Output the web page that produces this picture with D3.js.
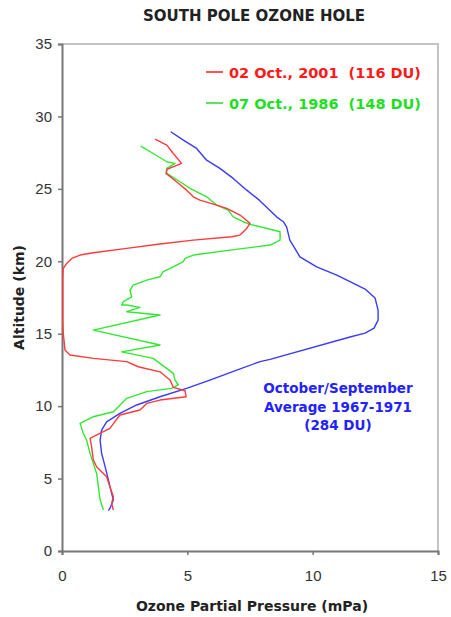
<!DOCTYPE html>
<html>
<head>
<meta charset="utf-8">
<script src="https://cdn.jsdelivr.net/npm/d3@7"></script>
<style>
  body { margin: 0; background: #fff; }
  text { font-family: "DejaVu Sans", sans-serif; }
</style>
</head>
<body>
<div id="chart-area"></div>
<script>
// Ozone profiles, altitude (km) against partial pressure (mPa)
const pressure2001 = [3.71, 4.18, 4.44, 4.77, 4.18, 4.15, 4.57, 4.97, 5.24, 5.50, 6.17, 6.57, 7.10, 7.50, 7.37, 7.10, 6.77, 5.24, 3.91, 2.58, 1.25, 0.72, 0.39, 0.19, 0.05, 0.03, 0.03, 0.05, 0.12, 0.32, 1.25, 2.58, 3.04, 3.91, 4.31, 4.44, 4.91, 4.95, 3.91, 3.38, 3.11, 2.31, 1.91, 1.25, 1.12, 1.18, 1.25, 1.38, 1.78, 1.91, 2.05, 1.98, 2.05];
const altitude2001 = [28.43, 28.02, 27.44, 26.76, 26.34, 26.07, 25.49, 24.91, 24.45, 24.22, 23.88, 23.65, 23.19, 22.62, 22.27, 21.81, 21.69, 21.46, 21.19, 20.89, 20.59, 20.43, 20.20, 19.86, 19.51, 18.93, 15.94, 15.02, 13.87, 13.53, 13.30, 13.07, 12.72, 12.37, 11.80, 11.30, 11.06, 10.65, 10.42, 10.19, 9.73, 9.39, 8.47, 7.89, 7.78, 7.20, 6.28, 5.82, 5.13, 4.44, 3.75, 3.29, 2.83];

const pressure1986 = [3.14, 3.64, 4.18, 4.51, 4.18, 4.18, 4.71, 5.11, 5.77, 6.17, 6.63, 6.83, 7.23, 7.50, 8.70, 8.70, 8.30, 6.70, 5.24, 4.91, 4.84, 4.44, 4.04, 3.91, 3.38, 2.84, 2.71, 2.78, 2.45, 2.38, 2.58, 3.11, 2.58, 3.91, 1.25, 3.91, 2.38, 3.64, 4.44, 4.51, 4.64, 4.37, 3.38, 2.58, 2.25, 2.05, 1.25, 0.72, 0.85, 0.98, 1.12, 1.25, 1.38, 1.45, 1.52, 1.65];
const altitude1986 = [27.95, 27.44, 26.87, 26.76, 26.41, 26.07, 25.49, 25.03, 24.45, 23.88, 23.53, 23.07, 22.73, 22.55, 22.04, 21.46, 21.12, 20.77, 20.43, 20.20, 19.97, 19.62, 19.28, 18.93, 18.70, 18.36, 18.01, 17.55, 17.21, 16.98, 16.98, 16.82, 16.52, 16.29, 15.25, 14.22, 13.75, 13.30, 12.26, 11.80, 11.46, 11.23, 11.00, 10.54, 9.96, 9.61, 9.27, 8.81, 8.12, 7.66, 6.74, 6.05, 5.36, 4.44, 3.52, 2.83];

const pressureAvg = [4.34, 4.84, 5.37, 5.77, 6.30, 6.83, 7.37, 7.87, 8.56, 8.83, 8.96, 9.09, 9.49, 10.16, 10.96, 11.49, 12.09, 12.49, 12.61, 12.61, 12.45, 12.09, 11.49, 8.30, 7.90, 6.97, 5.90, 4.97, 3.91, 2.98, 2.31, 1.78, 1.58, 1.52, 1.58, 1.72, 1.85, 1.98, 2.05, 1.91, 1.85];
const altitudeAvg = [28.94, 28.36, 27.79, 26.98, 26.41, 25.72, 24.91, 24.22, 23.07, 22.73, 22.38, 21.46, 20.31, 19.62, 19.05, 18.59, 18.08, 17.46, 16.63, 15.94, 15.39, 15.04, 14.77, 13.23, 13.07, 12.49, 11.80, 11.23, 10.65, 10.08, 9.50, 8.92, 8.35, 7.66, 6.74, 5.82, 4.90, 3.98, 3.52, 2.94, 2.78];

const xTicks = [0, 5, 10, 15];
const yTicks = [0, 5, 10, 15, 20, 25, 30, 35];
const legendLabels = ["02 Oct., 2001  (116 DU)", "07 Oct., 1986  (148 DU)"];
const avgLabels = ["October/September", "Average 1967-1971", "(284 DU)"];

const margin = { left: 62, right: 13, top: 44, bottom: 66 };
const width = 451 - margin.left - margin.right,
      height = 617 - margin.top - margin.bottom;

const svg = d3.select("#chart-area")
  .append("svg")
    .attr("width", 451)
    .attr("height", 617);

const g = svg.append("g")
  .attr("transform", "translate(" + margin.left + ", " + margin.top + ")");

const xScale = d3.scaleLinear().domain([0, 15]).range([0, width]);
const yScale = d3.scaleLinear().domain([0, 35]).range([height, 0]);

// light frame on top and right
g.append("path")
  .attr("d", "M0,0H" + width + "V" + height)
  .attr("fill", "none")
  .attr("stroke", "#c4c4c4")
  .attr("stroke-width", 2);

const xAxis = g.append("g")
  .attr("transform", "translate(0," + height + ")")
  .call(d3.axisBottom(xScale).tickValues(xTicks).tickSize(4).tickPadding(15));

const yAxis = g.append("g")
  .call(d3.axisLeft(yScale).tickValues(yTicks).tickSize(4).tickPadding(6));

[xAxis, yAxis].forEach((a) => {
  a.select(".domain").attr("stroke", "#777").attr("stroke-width", 2);
  a.selectAll(".tick line").attr("stroke", "#777").attr("stroke-width", 1.5);
  a.selectAll(".tick text")
    .attr("fill", "#333")
    .style("font-family", "'Liberation Sans', Arial, sans-serif")
    .style("font-size", "15px");
});

const line = d3.line()
  .x((d) => xScale(d[0]))
  .y((d) => yScale(d[1]));

const series = [
  { p: pressureAvg, a: altitudeAvg, color: "#3a3aff" },
  { p: pressure1986, a: altitude1986, color: "#33e833" },
  { p: pressure2001, a: altitude2001, color: "#ff3a3a" }
];

series.forEach((s) => {
  g.append("path")
    .datum(d3.zip(s.p, s.a))
    .attr("d", line)
    .attr("fill", "none")
    .attr("stroke", s.color)
    .attr("stroke-width", 1.4)
    .attr("stroke-linejoin", "round");
});

// legend
const legendColors = ["#ff1a1a", "#1ee01e"];
legendLabels.forEach((lab, i) => {
  const y = 72 + i * 31;
  svg.append("line")
    .attr("x1", 206).attr("x2", 223)
    .attr("y1", y).attr("y2", y)
    .attr("stroke", legendColors[i])
    .attr("stroke-width", 1.5);
  svg.append("text")
    .attr("x", 229).attr("y", y + 6)
    .attr("fill", legendColors[i])
    .style("font-size", "14.5px")
    .style("font-weight", "bold")
    .style("white-space", "pre")
    .text(lab);
});

avgLabels.forEach((lab, i) => {
  svg.append("text")
    .attr("x", 338).attr("y", 393 + i * 18.5)
    .attr("text-anchor", "middle")
    .attr("fill", "#2222ff")
    .style("font-size", "13.5px")
    .style("font-weight", "bold")
    .text(lab);
});

svg.append("text")
  .attr("x", 254).attr("y", 21)
  .attr("text-anchor", "middle")
  .attr("fill", "#222")
  .style("font-size", "15px")
  .style("font-weight", "bold")
  .text("SOUTH POLE OZONE HOLE");

svg.append("text")
  .attr("x", 252).attr("y", 611)
  .attr("text-anchor", "middle")
  .attr("fill", "#222")
  .style("font-size", "14px")
  .style("font-weight", "bold")
  .text("Ozone Partial Pressure (mPa)");

svg.append("text")
  .attr("transform", "translate(24," + (margin.top + height / 2) + ") rotate(-90)")
  .attr("text-anchor", "middle")
  .attr("fill", "#222")
  .style("font-size", "14px")
  .style("font-weight", "bold")
  .text("Altitude (km)");
</script>
</body>
</html>
